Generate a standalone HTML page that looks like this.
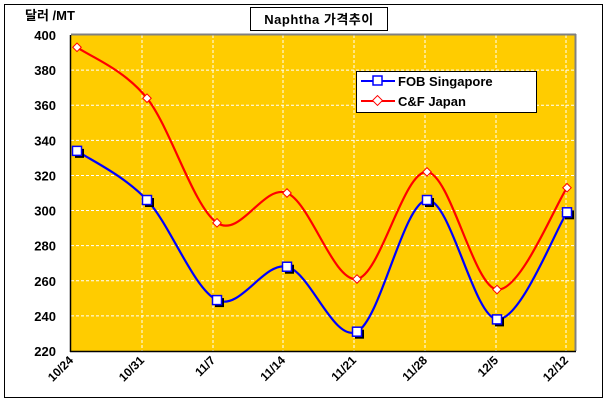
<!DOCTYPE html>
<html><head><meta charset="utf-8"><style>
body{margin:0;background:#fff;}
svg{display:block;font-family:"Liberation Sans","Noto Sans CJK KR",sans-serif;}
</style></head><body>
<svg id="s" width="609" height="406" viewBox="0 0 609 406">
<rect x="4.5" y="4.5" width="598" height="393" fill="#fff" stroke="#000" stroke-width="1"/>
<rect x="71" y="35" width="504" height="316" fill="#FFCC00"/>
<g id="grid" stroke="#fff" stroke-dasharray="3,2" stroke-width="1"></g>
<line x1="71" y1="34.5" x2="576" y2="34.5" stroke="#808080" stroke-width="2"/>
<line x1="575.5" y1="34" x2="575.5" y2="351" stroke="#808080" stroke-width="2"/>
<line x1="70.5" y1="35" x2="70.5" y2="352" stroke="#000" stroke-width="1.5"/>
<line x1="70" y1="351.5" x2="576" y2="351.5" stroke="#000" stroke-width="1.5"/>
<g id="yl" font-size="13" font-weight="bold" text-anchor="end"></g>
<g id="xl" font-size="12" font-weight="bold" text-anchor="end"></g>
<text x="25" y="20" font-size="13" font-weight="bold">달러 /MT</text>
<rect x="250.5" y="7.5" width="137" height="23" fill="#fff" stroke="#000"/>
<text x="319" y="24" font-size="13" font-weight="bold" text-anchor="middle" letter-spacing="0.5">Naphtha 가격추이</text>
<g id="series"></g>
<rect x="356.5" y="71.5" width="180" height="41" fill="#fff" stroke="#000"/>
<line x1="361" y1="81" x2="395" y2="81" stroke="#0000ff" stroke-width="2"/>
<rect x="373" y="76" width="9" height="9" fill="#fff" stroke="#0000ff" stroke-width="1.5"/>
<text x="398" y="86" font-size="13" font-weight="bold">FOB Singapore</text>
<line x1="361" y1="101" x2="395" y2="101" stroke="#ff0000" stroke-width="2"/>
<rect x="374" y="97" width="7" height="7" fill="#fff" stroke="#ff0000" transform="rotate(45 377.5 100.5)"/>
<text x="398" y="106" font-size="13" font-weight="bold">C&amp;F Japan</text>
</svg>
<script>
var ns="http://www.w3.org/2000/svg";
function el(t,a,p){var e=document.createElementNS(ns,t);for(var k in a)e.setAttribute(k,a[k]);document.getElementById(p).appendChild(e);return e;}
function Y(v){return 351-(v-220)*1.7556;}
var gx=[71,142,213,283,354,425,496,566];
for(var v=240;v<400;v+=20)el("line",{x1:71,x2:575,y1:Y(v),y2:Y(v)},"grid");
for(var i=1;i<8;i++)el("line",{x1:gx[i],x2:gx[i],y1:35,y2:351},"grid");
for(var v=220;v<=400;v+=20){var t=el("text",{x:56,y:Y(v)+5},"yl");t.textContent=v;}
var lab=["10/24","10/31","11/7","11/14","11/21","11/28","12/5","12/12"];
for(var i=0;i<8;i++){var x=gx[i]+3,y=361;var t=el("text",{x:x,y:y,transform:"rotate(-45 "+x+" "+y+")"},"xl");t.textContent=lab[i];}
function path(d){var p=d.map(function(v,i){return[77+70*i,Y(v)];});
var s="M"+p[0][0]+","+p[0][1];
for(var i=0;i<p.length-1;i++){var p0=p[i-1]||p[i],p1=p[i],p2=p[i+1],p3=p[i+2]||p2;
var c1=[p1[0]+(p2[0]-p0[0])/6,p1[1]+(p2[1]-p0[1])/6],c2=[p2[0]-(p3[0]-p1[0])/6,p2[1]-(p3[1]-p1[1])/6];
s+=" C"+c1+" "+c2+" "+p2;}return[s,p];}
var b=[334,306,249,268,231,306,238,299],r=[393,364,293,310,261,322,255,313];
var pb=path(b),pr=path(r);
el("path",{d:pb[0],fill:"none",stroke:"#0000ff","stroke-width":2.2},"series");
el("path",{d:pr[0],fill:"none",stroke:"#ff0000","stroke-width":2.2},"series");
pb[1].forEach(function(q){el("rect",{x:q[0]-2,y:q[1]-2,width:9,height:9,fill:"#000"},"series");el("rect",{x:q[0]-4.5,y:q[1]-4.5,width:9,height:9,fill:"#fff",stroke:"#0000ff","stroke-width":1.5},"series");});
pr[1].forEach(function(q){el("rect",{x:q[0]-3,y:q[1]-3,width:6,height:6,fill:"#fff",stroke:"#ff0000",transform:"rotate(45 "+q[0]+" "+q[1]+")"},"series");});
</script>
</body></html>
